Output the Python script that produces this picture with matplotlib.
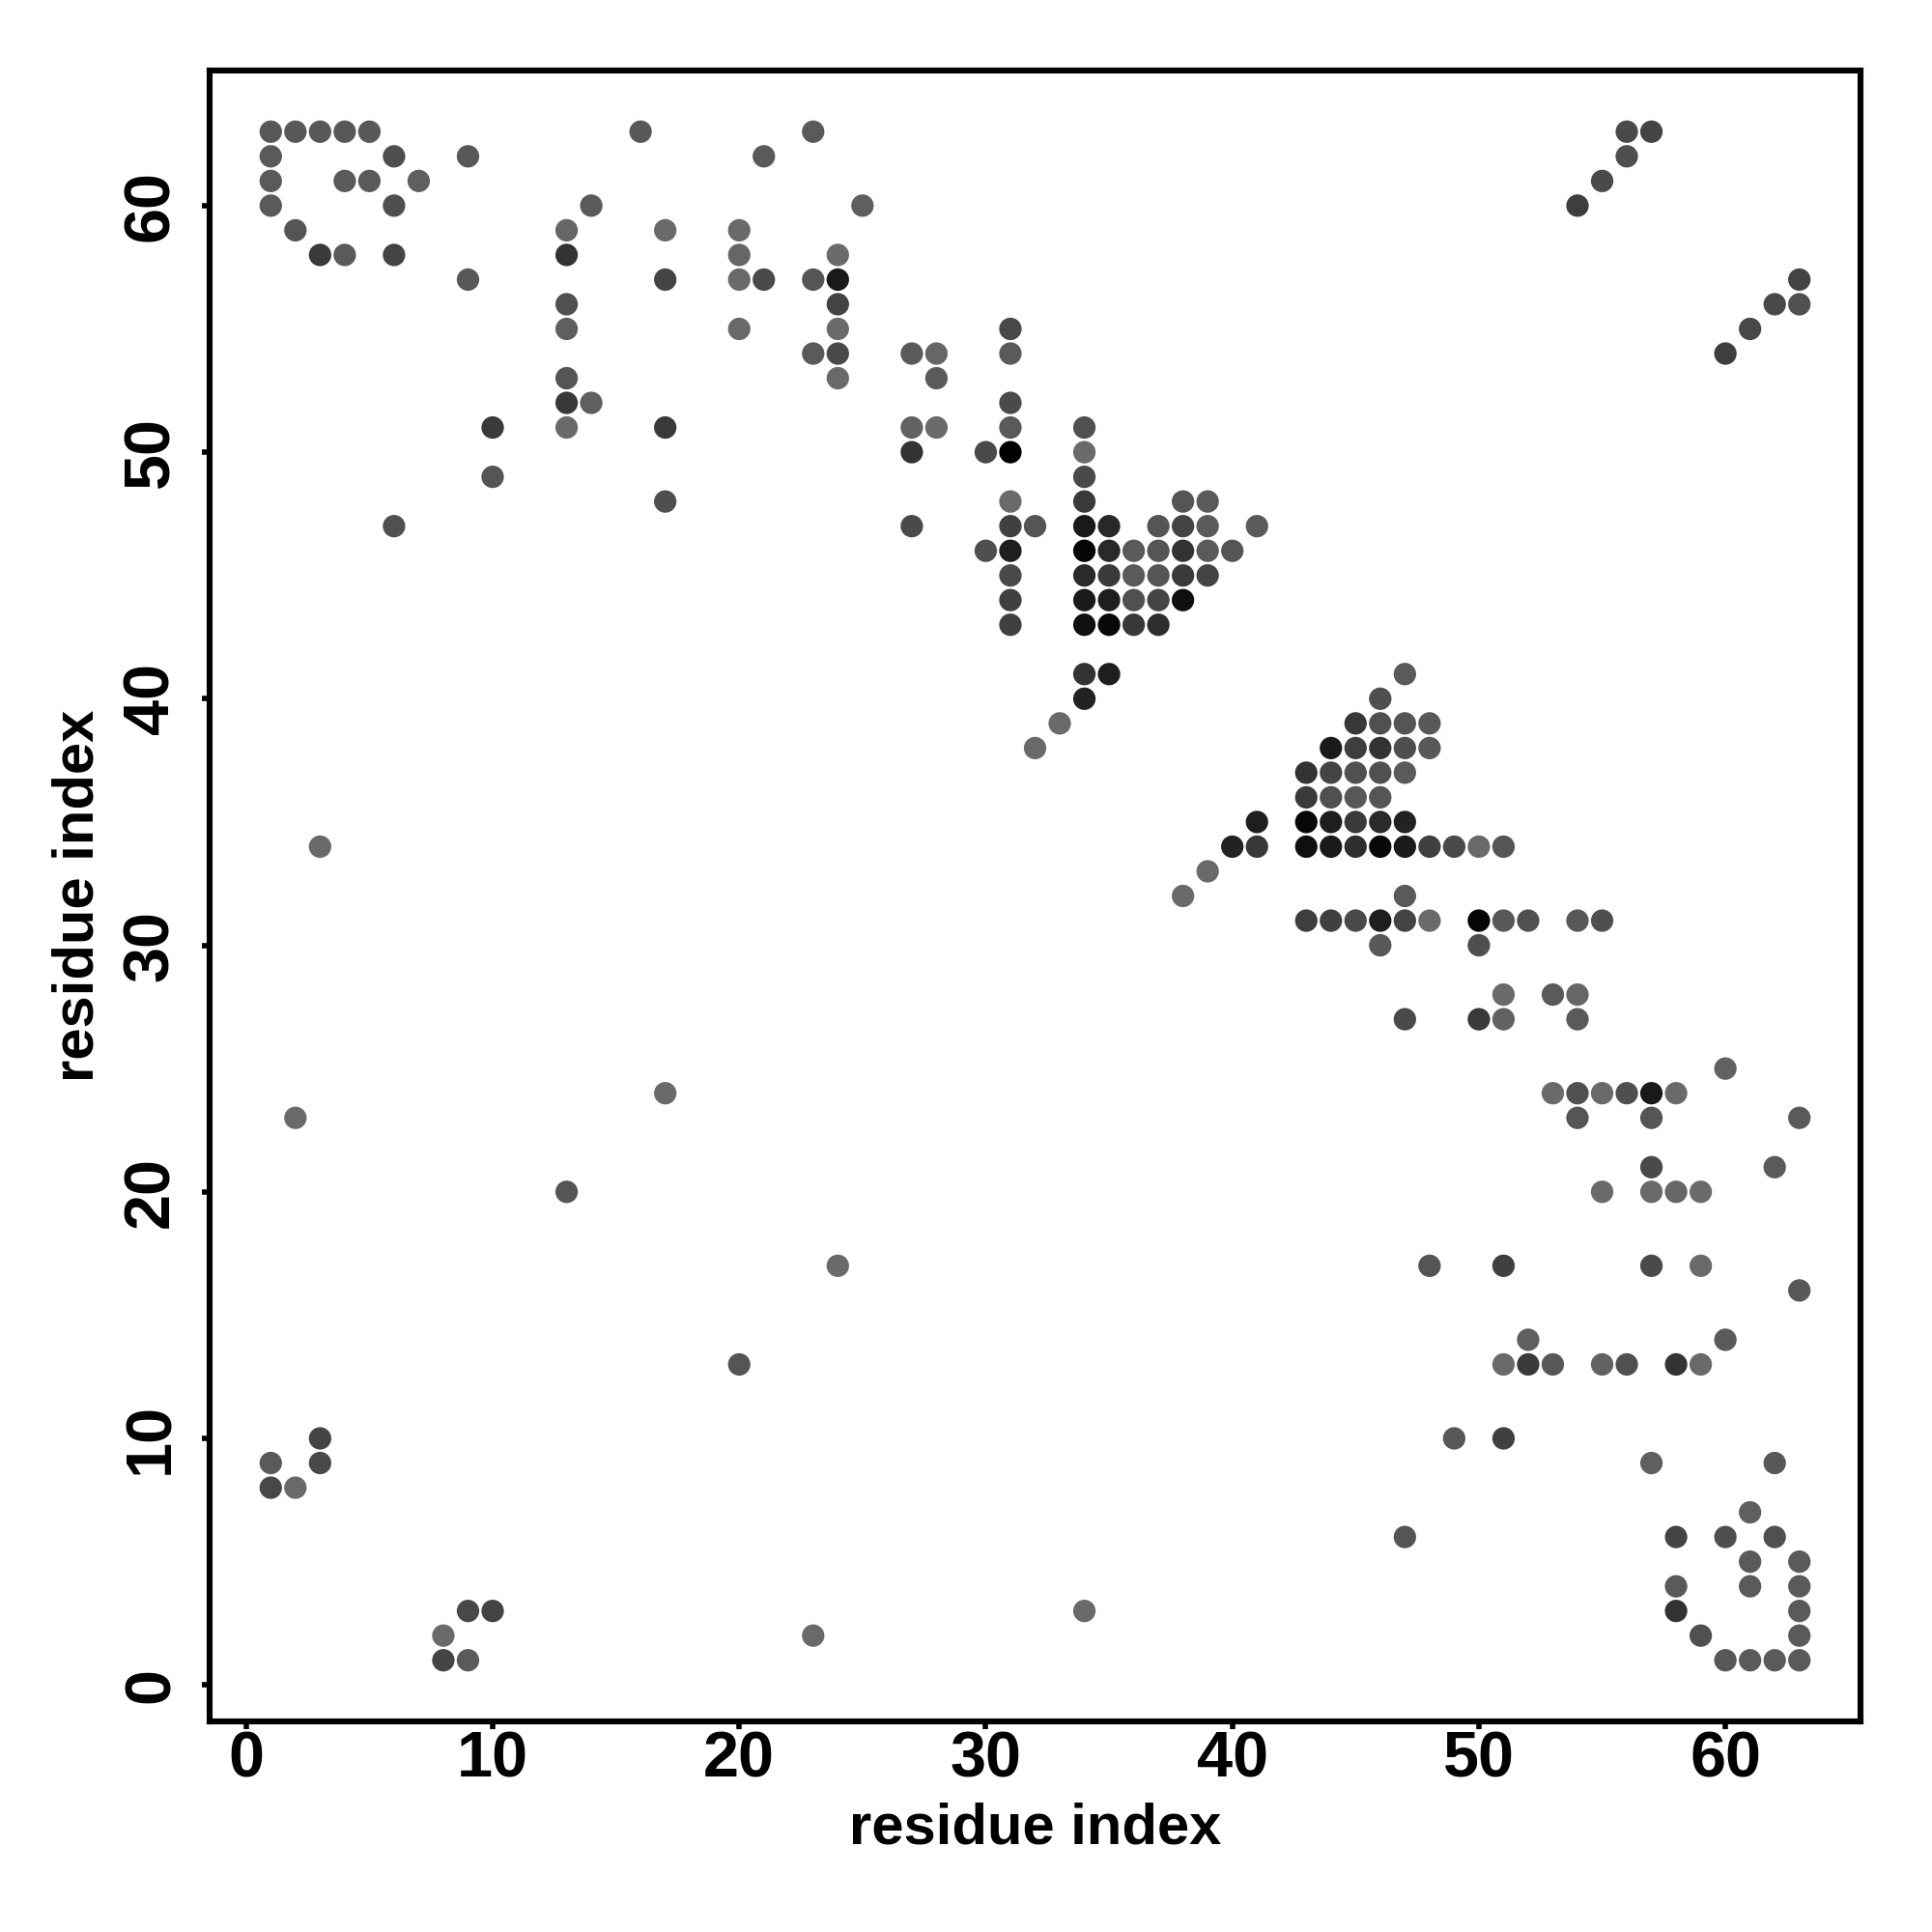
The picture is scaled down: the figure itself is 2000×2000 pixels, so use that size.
import matplotlib
matplotlib.use('Agg')
import matplotlib.pyplot as plt

# contact pairs (residue i, residue j) and grey level of each dot (0=black, 255=white)
res_i = [1, 2, 3, 4, 5, 16, 23, 56, 57,
         1, 6, 9, 21, 56,
         1, 4, 5, 7, 55,
         1, 6, 14, 25, 54,
         2, 13, 17, 20,
         3, 4, 6, 13, 20, 24,
         9, 17, 20, 21, 23, 24, 63,
         13, 24, 62, 63,
         13, 20, 24, 31, 61,
         23, 24, 27, 28, 31, 60,
         13, 24, 28,
         13, 14, 31,
         10, 13, 17, 27, 28, 31, 34,
         27, 30, 31, 34,
         10, 34,
         17, 31, 34, 38, 39,
         6, 27, 31, 32, 34, 35, 37, 38, 39, 41,
         30, 31, 34, 35, 36, 37, 38, 39, 40,
         31, 34, 35, 36, 37, 38, 39,
         31, 34, 35, 36, 37, 38,
         31, 34, 35, 36, 37,
         34, 35, 47,
         34, 46,
         33, 45, 46, 47, 48,
         32, 44, 45, 46, 47, 48,
         43, 44, 45, 46, 47,
         43, 44, 45, 46,
         41, 43, 44, 45, 46, 47,
         3, 40, 41, 43, 44, 45, 46, 47, 48, 49, 50, 51,
         39,
         38, 47,
         43, 44, 45, 46, 47, 48, 50, 51, 52, 54, 55,
         46, 50,
         51, 53, 54,
         47, 50, 51, 54,
         60,
         17, 53, 54, 55, 56, 57, 58,
         2, 54, 57, 63,
         57, 62,
         13, 55, 57, 58, 59,
         24, 48, 51, 57, 59,
         63,
         52, 60,
         20, 51, 52, 53, 55, 56, 58, 59,
         3, 49, 51,
         1, 3, 57, 62,
         1, 2,
         61,
         47, 58, 60, 62,
         61, 63,
         58, 61, 63,
         9, 10, 34, 58, 63,
         8, 23, 59, 63,
         8, 9, 60, 61, 62, 63]

res_j = [63] * 9 + [62] * 5 + [61] * 5 + [60] * 5 + [59] * 4 + [58] * 6 + [57] * 7 + \
        [56] * 4 + [55] * 5 + [54] * 6 + [53] * 3 + [52] * 3 + [51] * 7 + [50] * 4 + \
        [49] * 2 + [48] * 5 + [47] * 10 + [46] * 9 + [45] * 7 + [44] * 6 + [43] * 5 + \
        [41] * 3 + [40] * 2 + [39] * 5 + [38] * 6 + [37] * 5 + [36] * 4 + [35] * 6 + \
        [34] * 12 + [33] * 1 + [32] * 2 + [31] * 11 + [30] * 2 + [28] * 3 + [27] * 4 + \
        [25] * 1 + [24] * 7 + [23] * 4 + [21] * 2 + [20] * 5 + [17] * 5 + [16] * 1 + \
        [14] * 2 + [13] * 8 + [10] * 3 + [9] * 4 + [8] * 2 + [7] * 1 + [6] * 4 + \
        [5] * 2 + [4] * 3 + [3] * 5 + [2] * 4 + [1] * 6

shade = [0x58, 0x58, 0x58, 0x58, 0x58, 0x58, 0x5a, 0x4a, 0x44,
         0x5a, 0x4f, 0x58, 0x5a, 0x4f,
         0x5a, 0x5a, 0x5a, 0x5f, 0x4a,
         0x5a, 0x4f, 0x5a, 0x5f, 0x3e,
         0x55, 0x66, 0x6a, 0x6a,
         0x3a, 0x5a, 0x44, 0x33, 0x66, 0x6a,
         0x58, 0x44, 0x6a, 0x4a, 0x55, 0x1a, 0x44,
         0x50, 0x44, 0x4a, 0x50,
         0x5f, 0x6a, 0x6a, 0x48, 0x48,
         0x5a, 0x4a, 0x5a, 0x66, 0x5a, 0x3e,
         0x55, 0x6a, 0x5a,
         0x38, 0x5f, 0x4a,
         0x3a, 0x6a, 0x3a, 0x62, 0x6a, 0x5a, 0x50,
         0x33, 0x4a, 0x00, 0x6a,
         0x55, 0x4a,
         0x4f, 0x6a, 0x3a, 0x55, 0x5a,
         0x50, 0x4a, 0x40, 0x55, 0x1a, 0x28, 0x55, 0x44, 0x5a, 0x5a,
         0x4f, 0x1e, 0x05, 0x2a, 0x5a, 0x55, 0x33, 0x5a, 0x55,
         0x4a, 0x2a, 0x3a, 0x5a, 0x55, 0x3a, 0x44,
         0x40, 0x1a, 0x1e, 0x50, 0x45, 0x10,
         0x40, 0x10, 0x08, 0x38, 0x2e,
         0x33, 0x1e, 0x5a,
         0x22, 0x4f,
         0x6a, 0x38, 0x50, 0x55, 0x58,
         0x6a, 0x1a, 0x3e, 0x33, 0x4f, 0x58,
         0x33, 0x44, 0x50, 0x50, 0x5a,
         0x3a, 0x50, 0x58, 0x55,
         0x1e, 0x08, 0x1e, 0x3a, 0x2a, 0x22,
         0x6a, 0x22, 0x38, 0x10, 0x1a, 0x2e, 0x08, 0x1a, 0x40, 0x4a, 0x6a, 0x55,
         0x6a,
         0x6a, 0x5a,
         0x3e, 0x40, 0x4a, 0x1e, 0x44, 0x6a, 0x05, 0x58, 0x50, 0x58, 0x4f,
         0x58, 0x4f,
         0x6a, 0x5a, 0x66,
         0x4a, 0x3a, 0x62, 0x5a,
         0x62,
         0x6a, 0x6a, 0x50, 0x6a, 0x4f, 0x1a, 0x6a,
         0x6a, 0x55, 0x55, 0x5a,
         0x4a, 0x5a,
         0x55, 0x6a, 0x6a, 0x66, 0x6a,
         0x6a, 0x55, 0x40, 0x4a, 0x6a,
         0x58,
         0x5f, 0x5a,
         0x55, 0x6a, 0x3a, 0x58, 0x62, 0x50, 0x33, 0x6a,
         0x44, 0x58, 0x40,
         0x5a, 0x4a, 0x5f, 0x58,
         0x48, 0x6a,
         0x5f,
         0x55, 0x44, 0x4f, 0x50,
         0x5a, 0x5a,
         0x5a, 0x5a, 0x5a,
         0x48, 0x44, 0x6a, 0x33, 0x5a,
         0x6a, 0x6a, 0x50, 0x5a,
         0x44, 0x5a, 0x58, 0x5a, 0x5a, 0x5a]

XTICKS = [0, 10, 20, 30, 40, 50, 60]
YTICKS = [0, 10, 20, 30, 40, 50, 60]


def main():
    plt.rcParams['font.family'] = ['Liberation Sans', 'DejaVu Sans']
    plt.rcParams['font.weight'] = 'bold'
    fig = plt.figure(figsize=(10, 10), dpi=200)
    ax = fig.add_axes([217 / 2000, 1 - 1782 / 2000, (1926 - 217) / 2000, (1782 - 73) / 2000])
    cols = [str(v / 255) for v in shade]
    ax.scatter(res_i, res_j, s=70, c=cols, edgecolors='none', zorder=3)
    lo, hi = min(res_i + res_j), max(res_i + res_j)
    pad = 0.04 * (hi - lo)
    ax.set_xlim(lo - pad, hi + pad); ax.set_ylim(lo - pad, hi + pad)
    ax.set_xticks(XTICKS); ax.set_yticks(YTICKS)
    ax.set_yticklabels([str(t) for t in YTICKS], rotation=90, va='center')
    ax.tick_params(axis='both', direction='out', length=3, width=2.0, labelsize=24)
    ax.tick_params(axis='x', pad=0.5)
    ax.tick_params(axis='y', pad=7.3)
    for sp in ax.spines.values():
        sp.set_linewidth(2.2)
    ax.set_xlabel('residue index', fontsize=21.5, fontweight='bold', labelpad=4.4)
    ax.set_ylabel('residue index', fontsize=21.5, fontweight='bold', labelpad=6.5)
    fig.savefig('out.png', dpi=200)
    plt.close(fig)


if __name__ == '__main__':
    main()
